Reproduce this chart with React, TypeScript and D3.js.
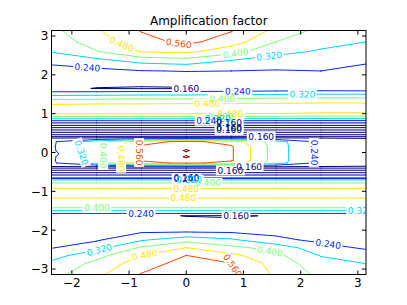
import React, { useMemo } from "react";
import * as d3 from "d3";

// grid of the field: columns in x, rows in y (top to bottom)
const colX = [-2.356, -1.571, -0.785, 0, 0.785, 1.571, 2.356, 3.142];
const rowY = [
  3.1416, 2.85, 2.6, 2.35, 2.1, 1.85, 1.65, 1.57, 1.48, 1.38, 1.25, 1.12, 1.0, 0.93, 0.87, 0.82, 0.77,
  0.73, 0.67, 0.61, 0.55, 0.49, 0.43, 0.385,
  0.335, 0.28, 0.15, 0.05, -0.03, -0.11, -0.2, -0.27, -0.325,
  -0.375, -0.43, -0.49, -0.55, -0.61, -0.655,
  -0.67, -0.71, -0.79, -0.93, -1.05, -1.18, -1.43, -1.5, -1.57, -1.63, -1.85, -2.05,
  -2.25, -2.45, -2.65, -2.85, -3.1416,
];
const field = [
  [0.378, 0.47, 0.565, 0.61, 0.565, 0.46, 0.376, 0.34],
  [0.35, 0.44, 0.53, 0.58, 0.52, 0.4, 0.35, 0.32],
  [0.325, 0.395, 0.485, 0.5, 0.43, 0.345, 0.31, 0.29],
  [0.255, 0.29, 0.34, 0.357, 0.31, 0.28, 0.28, 0.25],
  [0.215, 0.22, 0.237, 0.243, 0.24, 0.235, 0.24, 0.215],
  [0.19, 0.18, 0.185, 0.19, 0.2, 0.2, 0.2, 0.19],
  [0.175, 0.158, 0.153, 0.155, 0.175, 0.19, 0.195, 0.185],
  [0.235, 0.235, 0.24, 0.24, 0.245, 0.25, 0.255, 0.255],
  [0.31, 0.315, 0.32, 0.32, 0.33, 0.335, 0.34, 0.34],
  [0.39, 0.395, 0.4, 0.4, 0.41, 0.415, 0.42, 0.42],
  [0.475, 0.48, 0.481, 0.485, 0.49, 0.49, 0.495, 0.495],
  [0.52, 0.52, 0.52, 0.52, 0.52, 0.52, 0.52, 0.52],
  [0.482, 0.482, 0.482, 0.482, 0.482, 0.478, 0.472, 0.472],
  [0.402, 0.402, 0.402, 0.402, 0.402, 0.398, 0.392, 0.392],
  [0.322, 0.322, 0.322, 0.322, 0.322, 0.318, 0.315, 0.315],
  [0.242, 0.242, 0.242, 0.242, 0.242, 0.24, 0.238, 0.238],
  [0.165, 0.165, 0.165, 0.165, 0.165, 0.165, 0.165, 0.165],
  [0.14, 0.14, 0.14, 0.14, 0.14, 0.14, 0.14, 0.14],
  [0.178, 0.178, 0.178, 0.178, 0.178, 0.178, 0.178, 0.178],
  [0.142, 0.142, 0.142, 0.142, 0.142, 0.142, 0.142, 0.142],
  [0.178, 0.178, 0.178, 0.178, 0.178, 0.178, 0.178, 0.178],
  [0.142, 0.142, 0.142, 0.142, 0.142, 0.142, 0.142, 0.142],
  [0.175, 0.175, 0.175, 0.175, 0.175, 0.175, 0.175, 0.175],
  [0.145, 0.145, 0.145, 0.145, 0.145, 0.145, 0.145, 0.145],
  [0.2, 0.24, 0.3, 0.32, 0.3, 0.24, 0.2, 0.18],
  [0.225, 0.365, 0.53, 0.58, 0.53, 0.355, 0.215, 0.19],
  [0.228, 0.37, 0.57, 0.625, 0.57, 0.36, 0.217, 0.19],
  [0.226, 0.37, 0.57, 0.645, 0.57, 0.36, 0.217, 0.19],
  [0.215, 0.37, 0.57, 0.632, 0.57, 0.36, 0.217, 0.19],
  [0.226, 0.37, 0.57, 0.645, 0.57, 0.36, 0.217, 0.19],
  [0.228, 0.37, 0.57, 0.625, 0.57, 0.36, 0.217, 0.19],
  [0.225, 0.365, 0.53, 0.58, 0.53, 0.355, 0.215, 0.19],
  [0.2, 0.24, 0.3, 0.32, 0.3, 0.24, 0.2, 0.18],
  [0.145, 0.145, 0.145, 0.145, 0.145, 0.145, 0.145, 0.145],
  [0.175, 0.175, 0.175, 0.175, 0.175, 0.175, 0.175, 0.175],
  [0.142, 0.142, 0.142, 0.142, 0.142, 0.142, 0.142, 0.142],
  [0.178, 0.178, 0.178, 0.178, 0.178, 0.178, 0.178, 0.178],
  [0.142, 0.142, 0.142, 0.142, 0.142, 0.142, 0.142, 0.142],
  [0.15, 0.15, 0.15, 0.15, 0.15, 0.15, 0.15, 0.15],
  [0.245, 0.245, 0.245, 0.245, 0.245, 0.245, 0.245, 0.245],
  [0.33, 0.33, 0.33, 0.33, 0.33, 0.33, 0.33, 0.33],
  [0.405, 0.405, 0.405, 0.405, 0.405, 0.405, 0.405, 0.405],
  [0.485, 0.485, 0.485, 0.485, 0.485, 0.485, 0.485, 0.485],
  [0.52, 0.52, 0.52, 0.52, 0.52, 0.52, 0.52, 0.52],
  [0.478, 0.478, 0.478, 0.478, 0.478, 0.478, 0.478, 0.478],
  [0.398, 0.398, 0.398, 0.398, 0.398, 0.398, 0.398, 0.398],
  [0.318, 0.318, 0.318, 0.318, 0.318, 0.318, 0.318, 0.318],
  [0.238, 0.238, 0.238, 0.238, 0.238, 0.238, 0.238, 0.238],
  [0.185, 0.19, 0.175, 0.158, 0.153, 0.165, 0.185, 0.19],
  [0.19, 0.2, 0.195, 0.19, 0.185, 0.18, 0.19, 0.19],
  [0.205, 0.225, 0.235, 0.241, 0.235, 0.225, 0.215, 0.205],
  [0.22, 0.23, 0.31, 0.37, 0.333, 0.255, 0.225, 0.21],
  [0.235, 0.29, 0.41, 0.48, 0.42, 0.37, 0.265, 0.23],
  [0.29, 0.37, 0.48, 0.56, 0.5, 0.42, 0.315, 0.275],
  [0.335, 0.42, 0.52, 0.59, 0.56, 0.445, 0.35, 0.318],
  [0.37, 0.46, 0.565, 0.61, 0.58, 0.465, 0.38, 0.34],
];
const levels = [0.16, 0.24, 0.32, 0.4, 0.48, 0.56, 0.64];
const xTicks = [-2, -1, 0, 1, 2, 3];
const yTicks = [-3, -2, -1, 0, 1, 2, 3];
// where clabel put its labels: [level, x, y]
const labelSpots: [number, number, number][] = [
  [0.56, -0.14, 2.72], [0.48, -1.15, 2.73], [0.4, 0.86, 2.58], [0.32, 1.45, 2.5],
  [0.24, -1.73, 2.17], [0.16, 0.0, 1.65], [0.24, 0.9, 1.6], [0.32, 2.03, 1.62],
  [0.4, 0.63, 1.39], [0.48, 0.37, 1.22], [0.48, 0.77, 0.97], [0.4, 0.6, 0.92],
  [0.32, 0.55, 0.87], [0.24, 0.4, 0.82], [0.16, 0.75, 0.75], [0.16, 0.75, 0.65],
  [0.16, 0.75, 0.55], [0.16, 1.31, 0.41],
  [0.24, 2.22, 0.0], [0.32, -1.77, 0.03], [0.4, -1.43, -0.08], [0.48, -1.1, -0.15], [0.56, -0.84, 0.0],
  [0.16, 1.1, -0.33], [0.16, 0.77, -0.46], [0.16, 0.0, -0.62], [0.24, 0.0, -0.66], [0.32, 0.05, -0.7],
  [0.4, 0.38, -0.84], [0.48, 0.0, -0.93], [0.48, -0.05, -1.16], [0.4, -1.56, -1.43],
  [0.24, -0.79, -1.56], [0.16, 0.87, -1.6], [0.32, 3.05, -1.5],
  [0.32, -1.52, -2.5], [0.48, -0.73, -2.63], [0.56, 0.82, -2.9], [0.4, 1.47, -2.47], [0.24, 2.48, -2.35],
];

const W = 407, H = 305;
const plot = { left: 51.5, right: 366, top: 30.5, bottom: 274.5 };
const FS = 9;

const red = d3.scaleLinear().domain([0, 0.35, 0.66, 0.89, 1]).range([0, 0, 1, 1, 0.5]);
const green = d3.scaleLinear().domain([0, 0.125, 0.375, 0.64, 0.91, 1]).range([0, 0, 1, 1, 0, 0]);
const blue = d3.scaleLinear().domain([0, 0.11, 0.34, 0.65, 1]).range([0.5, 1, 1, 0, 0]);
const jet = (t: number) => d3.rgb(red(t) * 255, green(t) * 255, blue(t) * 255).formatHex();

type Seg = [number, number, number, number];

function contourSegs(level: number): Seg[] {
  const segs: Seg[] = [];
  for (let i = 0; i < rowY.length - 1; i++) {
    for (let j = 0; j < colX.length - 1; j++) {
      const x0 = colX[j], x1 = colX[j + 1], y0 = rowY[i], y1 = rowY[i + 1];
      const a = field[i][j], b = field[i][j + 1], c = field[i + 1][j + 1], d = field[i + 1][j];
      const t = (p: number, q: number) => (level - p) / (q - p);
      const e: ([number, number] | null)[] = [
        (a >= level) !== (b >= level) ? [x0 + (x1 - x0) * t(a, b), y0] : null,
        (b >= level) !== (c >= level) ? [x1, y0 + (y1 - y0) * t(b, c)] : null,
        (c >= level) !== (d >= level) ? [x1 + (x0 - x1) * t(c, d), y1] : null,
        (d >= level) !== (a >= level) ? [x0, y1 + (y0 - y1) * t(d, a)] : null,
      ];
      const hit = e.map((p, k) => (p ? k : -1)).filter((k) => k >= 0);
      const push = (m: number, n: number) => segs.push([e[m]![0], e[m]![1], e[n]![0], e[n]![1]]);
      if (hit.length === 2) push(hit[0], hit[1]);
      else if (hit.length === 4) {
        const center = (a + b + c + d) / 4 >= level;
        const acHigh = a >= level;
        if (acHigh === center) { push(0, 1); push(2, 3); } else { push(3, 0); push(1, 2); }
      }
    }
  }
  return segs;
}

export default function App() {
  const x = d3.scaleLinear().domain([colX[0], colX[colX.length - 1]]).range([plot.left, plot.right]);
  const y = d3.scaleLinear().domain([rowY[rowY.length - 1], rowY[0]]).range([plot.bottom, plot.top]);
  const colors = levels.map((_, i) => jet(i / (levels.length - 1)));

  const lines = useMemo(
    () => levels.map((lv) => contourSegs(lv).map(([a, b, c, d]) => [x(a), y(b), x(c), y(d)] as Seg)),
    []
  );

  const labels = useMemo(() => {
    const out: { px: number; py: number; ang: number; li: number }[] = [];
    labelSpots.forEach(([lv, lx, ly]) => {
      const li = levels.findIndex((l) => Math.abs(l - lv) < 1e-6);
      const ax = x(lx), ay = y(ly);
      let best = Infinity, bp: [number, number] = [0, 0], bang = 0;
      lines[li].forEach(([x1, y1, x2, y2]) => {
        const dx = x2 - x1, dy = y2 - y1;
        const L2 = dx * dx + dy * dy || 1e-9;
        const u = Math.max(0, Math.min(1, ((ax - x1) * dx + (ay - y1) * dy) / L2));
        const qx = x1 + u * dx, qy = y1 + u * dy;
        const dist = Math.hypot(qx - ax, qy - ay);
        if (dist < best) { best = dist; bp = [qx, qy]; bang = (Math.atan2(dy, dx) * 180) / Math.PI; }
      });
      if (best > 14) return;
      if (bang > 90) bang -= 180;
      if (bang <= -90) bang += 180;
      out.push({ px: bp[0], py: bp[1], ang: bang, li });
    });
    return out;
  }, [lines]);

  const lw = FS * 2.86 + 3;

  return (
    <svg width={W} height={H} style={{ position: "absolute", left: 0, top: 0, background: "#fff" }} fontFamily="DejaVu Sans">
      <defs>
        <clipPath id="pa">
          <rect x={plot.left} y={plot.top} width={plot.right - plot.left} height={plot.bottom - plot.top} />
        </clipPath>
        <mask id="lm" maskUnits="userSpaceOnUse" x={0} y={0} width={W} height={H}>
          <rect x={0} y={0} width={W} height={H} fill="#fff" />
          {labels.map((l, i) => (
            <rect key={i} x={-lw / 2} y={-FS / 2 - 0.5} width={lw} height={FS + 1} fill="#000"
              transform={`translate(${l.px},${l.py}) rotate(${l.ang})`} />
          ))}
        </mask>
      </defs>
      <text x={(plot.left + plot.right) / 2} y={25} textAnchor="middle" fontSize={12}>Amplification factor</text>
      <g clipPath="url(#pa)">
        <g mask="url(#lm)">
          {lines.map((segs, li) => (
            <path key={li} fill="none" stroke={colors[li]} strokeWidth={1} strokeLinecap="round"
              d={segs.map(([a, b, c, d]) => `M${a},${b}L${c},${d}`).join("")} />
          ))}
        </g>
        {labels.map((l, i) => (
          <text key={i} transform={`translate(${l.px},${l.py}) rotate(${l.ang})`} textAnchor="middle" dy="0.36em"
            fontSize={FS} fill={colors[l.li]}>{levels[l.li].toFixed(3)}</text>
        ))}
      </g>
      <rect x={plot.left} y={plot.top} width={plot.right - plot.left} height={plot.bottom - plot.top} fill="none" stroke="#000" strokeWidth={1} />
      {xTicks.map((t) => (
        <g key={"x" + t}>
          <line x1={x(t)} x2={x(t)} y1={plot.bottom} y2={plot.bottom - 4} stroke="#000" />
          <line x1={x(t)} x2={x(t)} y1={plot.top} y2={plot.top + 4} stroke="#000" />
          <text x={x(t)} y={286.5} textAnchor="middle" fontSize={12}>{t < 0 ? "\u2212" + -t : t}</text>
        </g>
      ))}
      {yTicks.map((t) => (
        <g key={"y" + t}>
          <line x1={plot.left} x2={plot.left + 4} y1={y(t)} y2={y(t)} stroke="#000" />
          <line x1={plot.right} x2={plot.right - 4} y1={y(t)} y2={y(t)} stroke="#000" />
          <text x={48.5} y={y(t) + 4.4} textAnchor="end" fontSize={12}>{t < 0 ? "\u2212" + -t : t}</text>
        </g>
      ))}
    </svg>
  );
}
